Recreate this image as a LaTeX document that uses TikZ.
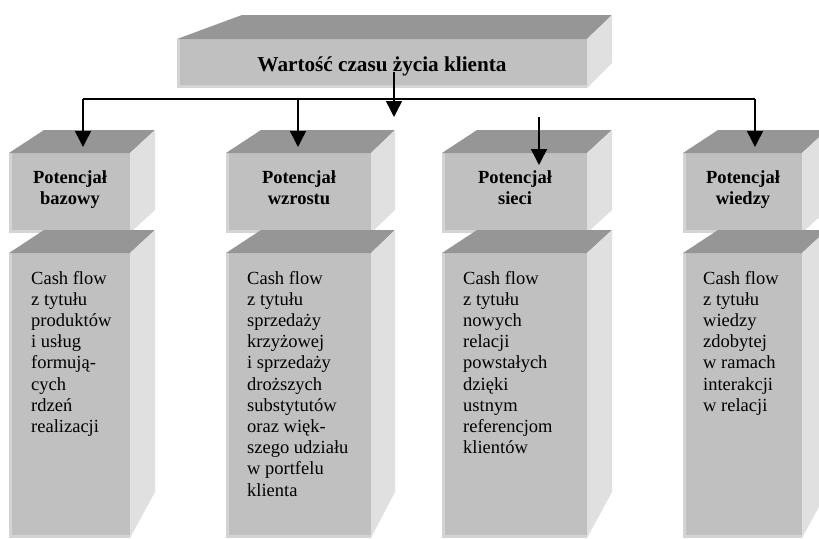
\documentclass[tikz,border=0pt]{standalone}
\usepackage{fontspec}
\setmainfont{Liberation Serif}
\usetikzlibrary{arrows.meta,calc}
\definecolor{topc}{RGB}{150,150,150}
\definecolor{frontc}{RGB}{192,192,192}
\definecolor{rightc}{RGB}{224,224,224}
\definecolor{stripc}{RGB}{212,212,212}
\tikzset{
  frontface/.style={rectangle, fill=frontc, inner sep=0pt, outer sep=0pt, anchor=north west},
  headtext/.style={font=\fontsize{18.5}{21}\selectfont\bfseries, align=center, anchor=base, inner sep=0pt},
  bodytext/.style={font=\fontsize{18.5}{21.2}\selectfont, align=left, anchor=base west, inner sep=0pt},
  titletext/.style={font=\fontsize{21.2}{24}\selectfont\bfseries, anchor=base, inner sep=0pt},
  conn/.style={line width=1.5pt, draw=black},
  arr/.style={conn, -{Triangle[width=16pt,length=16pt]}}
}
% #1 name, #2 x, #3 y, #4 w, #5 h, #6 left dx, #7 right dx, #8 dy, #9 back height of right face
\newcommand{\mycube}[9]{%
  \node[frontface, minimum width=#4pt, minimum height=#5pt] (#1) at (#2,#3) {};
  \fill[stripc] (#1.north west) rectangle ($(#1.south west)+(3,0)$);
  \fill[stripc] ($(#1.south west)+(0,-3)$) rectangle (#1.south east);
  \fill[topc] (#1.north west) -- ++(#6,-#8) -- ($(#1.north east)+(#7,-#8)$) -- (#1.north east) -- cycle;
  \fill[rightc] (#1.north east) -- ++(#7,-#8) -- ++(0,#9) -- (#1.south east) -- cycle;
}
\begin{document}
\begin{tikzpicture}[x=1pt,y=-1pt]
\useasboundingbox (0,0) rectangle (819,538);
\clip (0,0) rectangle (819,538);
% title cube
\mycube{title}{177}{39}{410}{49}{65}{25}{24}{48}
\node[titletext] (ttxt) at (382,71) {Wartość czasu życia klienta};
% header cubes
\mycube{h1}{9}{153}{121}{80}{35}{25}{23}{80}
\mycube{h2}{226}{153}{145}{80}{35}{24}{23}{80}
\mycube{h3}{442}{153}{145}{80}{35}{25}{23}{80}
\mycube{h4}{683}{153}{119}{80}{35}{25}{23}{80}
% base anchor = baseline of the last line
\node[headtext] (h1t) at (70,204) {Potencjał\\bazowy};
\node[headtext] (h2t) at (299,204) {Potencjał\\wzrostu};
\node[headtext] (h3t) at (515,204) {Potencjał\\sieci};
\node[headtext] (h4t) at (743,204) {Potencjał\\wiedzy};
% body cubes
\mycube{b1}{9}{253}{121}{285}{35}{25}{23}{262}
\mycube{b2}{226}{253}{145}{285}{35}{24}{23}{262}
\mycube{b3}{442}{253}{145}{285}{35}{25}{23}{262}
\mycube{b4}{683}{253}{119}{285}{35}{25}{23}{262}
\node[bodytext] (b1t) at (31,432.4) {Cash flow\\z tytułu\\produktów\\i usług\\formują-\\cych\\rdzeń\\realizacji};
\node[bodytext] (b2t) at (247,496) {Cash flow\\z tytułu\\sprzedaży\\krzyżowej\\i sprzedaży\\droższych\\substytutów\\oraz więk-\\szego udziału\\w portfelu\\klienta};
\node[bodytext] (b3t) at (463,453.6) {Cash flow\\z tytułu\\nowych\\relacji\\powstałych\\dzięki\\ustnym\\referencjom\\klientów};
\node[bodytext] (b4t) at (703,411.2) {Cash flow\\z tytułu\\wiedzy\\zdobytej\\w ramach\\interakcji\\w relacji};
% connectors
\coordinate (tA) at (394,72);
\coordinate (tB) at (394,117);
\coordinate (hL) at (83,99);
\coordinate (hM) at (298,99);
\coordinate (hR) at (755,99);
\coordinate (a1) at (83,147);
\coordinate (a2) at (298,147);
\coordinate (a4) at (755,147);
\coordinate (s3) at (539,117);
\coordinate (a3) at (539,165);
\draw[arr] (tA) -- (tB);
\draw[conn] (hL) -- (hR);
\draw[arr] (hL) -- (a1);
\draw[arr] (hM) -- (a2);
\draw[arr] (hR) -- (a4);
\draw[arr] (s3) -- (a3);
\end{tikzpicture}
\end{document}
